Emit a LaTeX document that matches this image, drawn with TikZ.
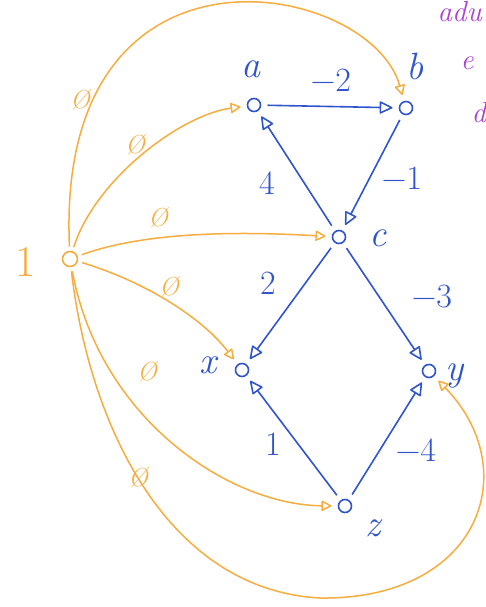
\documentclass[tikz,border=0pt]{standalone}
\usepackage{fontspec}
\usetikzlibrary{arrows.meta}
\definecolor{gblue}{RGB}{48,84,204}
\definecolor{gorange}{RGB}{246,172,62}
\definecolor{gpurple}{RGB}{172,64,208}

\begin{document}
\begin{tikzpicture}[
  x=1pt, y=-1pt,
  vert/.style={circle, draw=gblue, line width=1.6pt, inner sep=0pt,
               minimum size=13pt, outer sep=7pt},
  srcvert/.style={vert, draw=gorange, minimum size=15pt, outer sep=5pt},
  vname/.style={text=gblue, font=\fontsize{38}{40}\selectfont\itshape},
  wt/.style={text=gblue, font=\fontsize{34}{36}\selectfont},
  zero/.style={text=gorange, font=\fontsize{26}{28}\selectfont\itshape},
  note/.style={text=gpurple, font=\fontsize{29}{31}\selectfont\itshape, anchor=base west},
  bflow/.style={draw=gblue, line width=1.6pt,
                -{Triangle[open, length=14pt, width=13pt, round]}},
  oflow/.style={draw=gorange, line width=1.5pt,
                -{Triangle[open, length=11pt, width=11pt, round]}},
]
\useasboundingbox (0,0) rectangle (486,607);
\clip (0,0) rectangle (486,607);

% vertices
\node[srcvert] (s) at (70,259) {};
\node[vert] (a) at (254,105) {};
\node[vert] (b) at (406,108) {};
\node[vert] (c) at (339,237) {};
\node[vert] (x) at (242,370) {};
\node[vert] (y) at (429,371) {};
\node[vert] (z) at (345,506) {};

% vertex names
\node[text=gorange, font=\fontsize{44}{46}\selectfont] (ls) at (26,262) {1};
\node[vname] (la) at (251,69) {a};
\node[vname] (lb) at (415,67) {b};
\node[vname] (lc) at (378,238) {c};
\node[vname] (lx) at (208,365) {x};
\node[vname] (ly) at (455,376) {y};
\node[vname] (lz) at (373,528) {z};

% graph edges
\draw[bflow] (a) -- (b);
\draw[bflow] (b) -- (c);
\draw[bflow] (c) -- (a);
\draw[bflow] (c) -- (x);
\draw[bflow] (c) -- (y);
\draw[bflow] (z) -- (x);
\draw[bflow] (z) -- (y);

\node[wt] (wab) at (331,80) {−2};
\node[wt] (wbc) at (402,178) {−1};
\node[wt] (wca) at (267,183) {4};
\node[wt] (wcx) at (268,283) {2};
\node[wt] (wcy) at (432,297) {−3};
\node[wt] (wzx) at (273,444) {1};
\node[wt] (wzy) at (416,450) {−4};

% edges from the new source
\draw[oflow] (s) .. controls (55,-80) and (370,-20) .. (b);
\draw[oflow] (s) .. controls (95,180) and (180,115) .. (a);
\draw[oflow] (s) .. controls (150,230) and (250,232) .. (c);
\draw[oflow] (s) .. controls (140,280) and (200,315) .. (x);
\draw[oflow] (s) .. controls (100,420) and (230,505) .. (z);
\draw[oflow] (s) .. controls (90,430) and (170,590) .. (320,598)
  .. controls (480,600) and (525,470) .. (y);

\node[zero] (zb) at (80,100) {Ø};
\node[zero] (za) at (135,145) {Ø};
\node[zero] (zc) at (158,218) {Ø};
\node[zero] (zx) at (169,287) {Ø};
\node[zero] (zz) at (147,372) {Ø};
\node[zero] (zy) at (138,478) {Ø};

% margin note
\node[note] (n1) at (434,22) {adu};
\node[note] (n2) at (457,70) {e};
\node[note] (n3) at (468,122) {d};
\end{tikzpicture}
\end{document}
